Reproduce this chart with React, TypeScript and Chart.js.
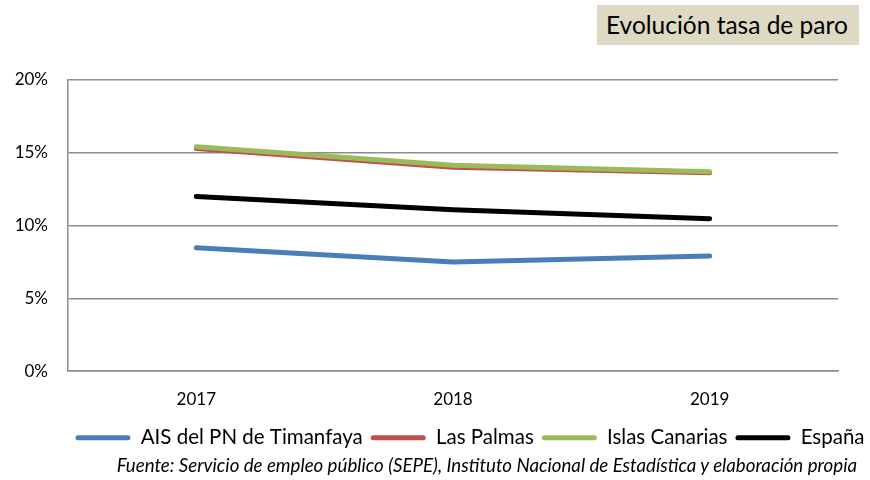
import React, { useEffect, useRef } from "react";
import { Chart, registerables } from "chart.js";

Chart.register(...registerables);

const categories = ["2017", "2018", "2019"];
const seriesNames = ["AIS del PN de Timanfaya", "Las Palmas", "Islas Canarias", "España"];
const aisValues = [8.47, 7.5, 7.9];
const lasPalmasValues = [15.3, 14.0, 13.62];
const canariasValues = [15.42, 14.15, 13.7];
const espanaValues = [12.0, 11.08, 10.47];
const yTicks = [0, 5, 10, 15, 20];
const titleText = "Evolución tasa de paro";
const sourceText = "Fuente: Servicio de empleo público (SEPE), Instituto Nacional de Estadística y elaboración propia";

const FONT = "Lato, 'Open Sans', sans-serif";
const GRID = "#8c8c8c";
const LEGEND_CENTER = 470;

const legendShift = {
  id: "legendShift",
  afterLayout(chart: any) {
    const lg = chart.legend;
    if (!lg) return;
    const w = lg.right - lg.left;
    lg.left = LEGEND_CENTER - w / 2;
    lg.right = lg.left + w;
  },
};

export default function App() {
  const ref = useRef<HTMLCanvasElement | null>(null);

  useEffect(() => {
    if (!ref.current) return;
    const colors = ["#4a7ebb", "#c0504d", "#9bbb59", "#000000"];
    const values = [aisValues, lasPalmasValues, canariasValues, espanaValues];
    const orders = [0, 2, 1, 3];
    const chart = new Chart(ref.current, {
      type: "line",
      data: {
        labels: categories,
        datasets: seriesNames.map((name, i) => ({
          label: name,
          data: values[i],
          borderColor: colors[i],
          backgroundColor: colors[i],
          borderWidth: 5,
          borderCapStyle: "round",
          borderJoinStyle: "round",
          pointRadius: 0,
          pointHoverRadius: 0,
          tension: 0,
          order: orders[i],
        })),
      },
      plugins: [legendShift],
      options: {
        animation: false,
        responsive: true,
        maintainAspectRatio: false,
        layout: { padding: { left: 8, right: 32, top: 80, bottom: 22 } },
        plugins: {
          tooltip: { enabled: false },
          title: { display: false },
          legend: {
            position: "bottom",
            labels: {
              font: { family: FONT, size: 20.5 },
              color: "#000",
              boxWidth: 55,
              boxHeight: 5,
              padding: 8,
              useBorderRadius: true,
              borderRadius: 2.5,
              sort: (a: any, b: any) => a.datasetIndex - b.datasetIndex,
              generateLabels: (c: any) => {
                const items = Chart.defaults.plugins.legend.labels.generateLabels(c);
                return items.map((it: any) => ({ ...it, lineWidth: 0, fillStyle: it.strokeStyle }));
              },
            },
          },
        },
        scales: {
          x: {
            type: "category",
            offset: true,
            grid: { display: false },
            border: { display: true, color: GRID, width: 1.5 },
            ticks: { color: "#000", font: { family: FONT, size: 17 }, padding: 10 },
          },
          y: {
            min: 0,
            max: 20,
            afterBuildTicks: (s: any) => {
              s.ticks = yTicks.map((v) => ({ value: v }));
            },
            afterFit: (s: any) => {
              s.width = 60;
            },
            grid: { color: GRID, lineWidth: 1.5, drawTicks: false },
            border: { display: true, color: GRID, width: 1.5 },
            ticks: {
              color: "#000",
              font: { family: FONT, size: 17 },
              padding: 20,
              callback: (v: any) => v + "%",
            },
          },
        },
      },
    });
    return () => chart.destroy();
  }, []);

  return (
    <div style={{ position: "absolute", left: 0, top: 0, width: 870, height: 480, background: "#fff" }}>
      <canvas ref={ref} />
      <div
        style={{
          position: "absolute",
          left: 597,
          top: 5,
          width: 262,
          height: 40,
          boxSizing: "border-box",
          paddingLeft: 9,
          background: "#ddd9c3",
          fontFamily: FONT,
          fontSize: 24.5,
          lineHeight: "40px",
          color: "#000",
          whiteSpace: "nowrap",
        }}
      >
        {titleText}
      </div>
      <div
        style={{
          position: "absolute",
          right: 13,
          top: 453,
          fontFamily: FONT,
          fontStyle: "italic",
          fontSize: 18.7,
          lineHeight: "24px",
          color: "#000",
          whiteSpace: "nowrap",
        }}
      >
        {sourceText}
      </div>
    </div>
  );
}
